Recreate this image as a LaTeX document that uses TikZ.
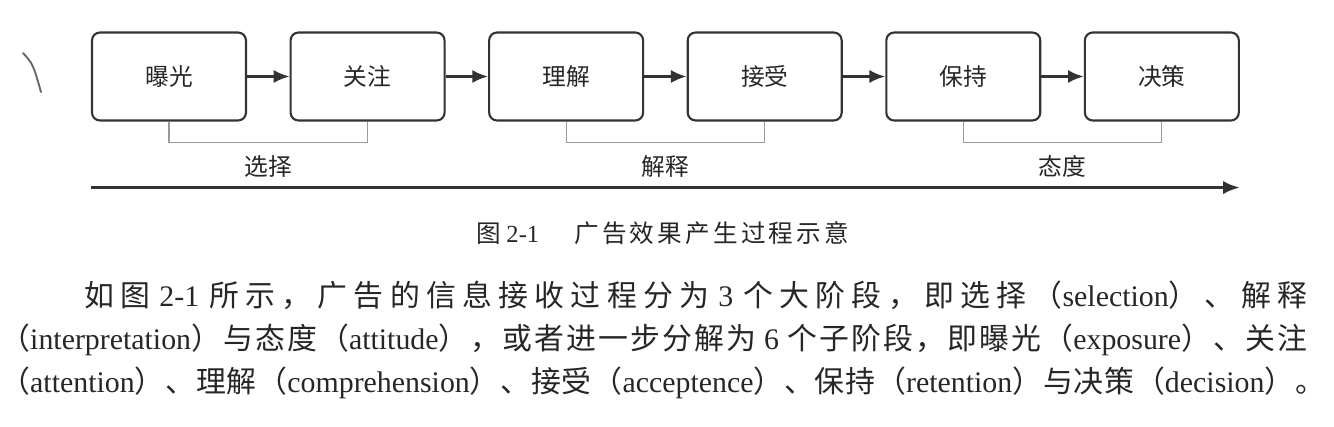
\documentclass[tikz,border=0pt]{standalone}
\usepackage{fontspec}
\setmainfont{Liberation Serif}
\newfontfamily\zhfont{Noto Sans CJK SC}
\usepackage{xcolor}
\usepackage{tikz}
\usetikzlibrary{arrows.meta,positioning,calc}
\definecolor{cInk}{HTML}{262626}
\definecolor{cBox}{HTML}{333333}
\definecolor{cBrk}{HTML}{9A9A9A}
\definecolor{cPen}{HTML}{6A6A6A}
% CJK runs in the CJK font, Latin runs in the serif, stretch between CJK chars
\XeTeXinterchartokenstate=1
\newXeTeXintercharclass\zhcls
\newcount\zhc
\zhc="3000 \loop\XeTeXcharclass\zhc=\zhcls \advance\zhc by 1 \ifnum\zhc<"3040 \repeat
\zhc="4E00 \loop\XeTeXcharclass\zhc=\zhcls \advance\zhc by 1 \ifnum\zhc<"A000 \repeat
\zhc="FF00 \loop\XeTeXcharclass\zhc=\zhcls \advance\zhc by 1 \ifnum\zhc<"FF60 \repeat
\XeTeXinterchartoks 0 \zhcls={\zhfont}
\XeTeXinterchartoks 4095 \zhcls={\zhfont}
\XeTeXinterchartoks \zhcls 0={\rmfamily}
\XeTeXinterchartoks 4095 0={\rmfamily}
\XeTeXinterchartoks \zhcls \zhcls={\hskip 0pt plus .3em minus .05em\relax}
\tikzset{
  stage/.style={draw=cBox,line width=1.2pt,rounded corners=4.5pt,minimum width=3.08cm,minimum height=1.76cm,inner sep=0pt,font=\fontsize{13.5}{15}\selectfont,text=cInk},
  flow/.style={-{Latex[length=9pt,width=7.5pt]},line width=1.5pt,draw=cBox},
  brk/.style={draw=cBrk,line width=0.7pt},
  phase/.style={font=\fontsize{13.5}{15}\selectfont,text=cInk,inner sep=0pt},
  timeline/.style={-{Latex[length=9.5pt,width=7.5pt]},line width=1.7pt,draw=cBox},
  para/.style={font=\fontsize{17}{20}\selectfont,text=cInk,inner sep=0pt,anchor=base west},
}

\begin{document}
\begin{tikzpicture}[x=0.02cm,y=-0.02cm]
  \useasboundingbox (0,0) rectangle (1334,426);
  % pen mark on the scan
  \draw[cPen,line width=1.1pt,line cap=round] (23,53) .. controls (33,64) .. (41,92);
  % six stages
  \node[stage] (s1) at (169,76.5) {曝光};
  \node[stage,right=0.85cm of s1] (s2) {关注};
  \node[stage,right=0.85cm of s2] (s3) {理解};
  \node[stage,right=0.85cm of s3] (s4) {接受};
  \node[stage,right=0.85cm of s4] (s5) {保持};
  \node[stage,right=0.85cm of s5] (s6) {决策};
  \foreach \a/\b in {s1/s2,s2/s3,s3/s4,s4/s5,s5/s6}{\draw[flow] (\a) -- (\b);}
  % three phases
  \draw[brk] (s1.south) -- ++(0,21) -| (s2.south) node[phase,pos=0.25,yshift=-13.6pt] (ph1) {选择};
  \draw[brk] (s3.south) -- ++(0,21) -| (s4.south) node[phase,pos=0.25,yshift=-13.6pt] (ph2) {解释};
  \draw[brk] (s5.south) -- ++(0,21) -| (s6.south) node[phase,pos=0.25,yshift=-13.6pt] (ph3) {态度};
  \coordinate (t0) at ($(s1.south west)+(0,66)$);
  \coordinate (t1) at ($(s6.south east)+(0,66)$);
  \draw[timeline] (t0) -- (t1);
  % caption and text
  \node[para,font=\fontsize{14}{16}\selectfont] (cap) at (476,242) {图 2-1\hspace{0.7cm}\makebox[5.5cm][s]{广告效果产生过程示意}};
  \node[para] (l1) at (84,306) {\makebox[24.46cm][s]{如图 2-1 所示，广告的信息接收过程分为 3 个大阶段，即选择（selection）、解释}};
  \node[para] (l2) at (0,349) {\makebox[26.14cm][s]{（interpretation）与态度（attitude），或者进一步分解为 6 个子阶段，即曝光（exposure）、关注}};
  \node[para] (l3) at (0,392) {\makebox[26.5cm][s]{（attention）、理解（comprehension）、接受（acceptence）、保持（retention）与决策（decision）。}};
\end{tikzpicture}
\end{document}
